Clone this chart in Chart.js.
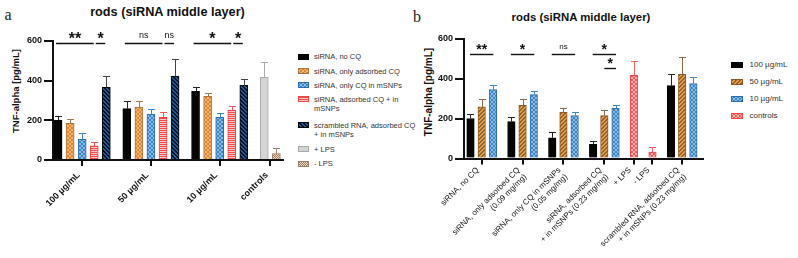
<!DOCTYPE html>
<html>
<head>
<meta charset="utf-8">
<script src="https://cdn.jsdelivr.net/npm/chart.js@4.4.1/dist/chart.umd.min.js"></script>
<style>
  body { margin: 0; background: #fff; font-family: "Liberation Sans", Arial, sans-serif; }
  #wrap { position: relative; width: 798px; height: 258px; overflow: hidden; }
  canvas { position: absolute; top: 0; }
  .txt { position: absolute; transform: translate(-50%, -50%); white-space: nowrap; line-height: 1; color: #111; }
  .letter { font-family: "Liberation Serif", serif; font-size: 16px; color: #222; }
  .bold { font-weight: bold; }
  .ytitle { transform: translate(-50%, -50%) rotate(-90deg); }
  .sw { position: absolute; box-sizing: border-box; border: 1px solid; }
  .lab { position: absolute; white-space: nowrap; color: #333; }
</style>
</head>
<body>
<div id="wrap">
  <div class="txt letter" style="left:8px; top:15px">a</div>
  <div class="txt bold" style="left:167.5px; top:12px; font-size:12.7px">rods (siRNA middle layer)</div>
  <div class="txt bold ytitle" style="left:15.5px; top:91px; font-size:9.5px">TNF-alpha [pg/mL]</div>
  <canvas id="chartA" width="290" height="258" style="left:0"></canvas>
  <div id="legendA"></div>

  <div class="txt letter" style="left:417px; top:17px">b</div>
  <div class="txt bold" style="left:581px; top:18px; font-size:11.4px">rods (siRNA middle layer)</div>
  <div class="txt bold ytitle" style="left:429px; top:92px; font-size:10px">TNF-alpha [pg/mL]</div>
  <canvas id="chartB" width="300" height="258" style="left:410px"></canvas>
  <div id="legendB"></div>
</div>

<script>
// values (mean, error) at 100 / 50 / 10 ug/mL
const concentrations = ["100 µg/mL", "50 µg/mL", "10 µg/mL"];
const controlNames = ["+ LPS", "- LPS"];
const treatmentLegend = [
  ["siRNA, no CQ"],
  ["siRNA, only adsorbed CQ"],
  ["siRNA, only CQ in mSNPs"],
  ["siRNA, adsorbed CQ + in", "mSNPs"],
  ["scrambled RNA, adsorbed CQ", "+ in mSNPs"]
];
const treatmentTicks = [
  ["siRNA, no CQ"],
  ["siRNA, only adsorbed CQ", "(0.09 mg/mg)"],
  ["siRNA, only CQ in mSNPs", "(0.05 mg/mg)"],
  ["siRNA, adsorbed CQ", "+ in mSNPs (0.23 mg/mg)"],
  ["scrambled RNA, adsorbed CQ", "+ in mSNPs (0.23 mg/mg)"]
];

const noCQ = [201, 259, 346];
const noCQSd = [22, 38, 24];
const adsorbedOnly = [185, 267, 321];
const adsorbedOnlySd = [22, 30, 17];
const cqInOnly = [104, 232, 215];
const cqInOnlySd = [30, 23, 20];
const adsorbedPlusIn = [71, 215, 252];
const adsorbedPlusInSd = [18, 27, 19];
const scrambled = [366, 423, 376];
const scrambledSd = [57, 85, 34];
const lps = [417, 32];
const lpsSd = [75, 27];

const yTicks = [0, 200, 400, 600];
const sigA = [["**", "*"], ["ns", "ns"], ["*", "*"]];
const sigB = ["**", "*", "ns", "*"];
const sigB50v10 = "*";

const means = [noCQ, adsorbedOnly, cqInOnly, adsorbedPlusIn, scrambled];
const sds = [noCQSd, adsorbedOnlySd, cqInOnlySd, adsorbedPlusInSd, scrambledSd];

const FONT = "'Liberation Sans', Arial, sans-serif";
Chart.defaults.font.family = FONT;
Chart.defaults.color = "#111";

// small pattern tiles
function tile(w, h, bg, fg, cells) {
  const c = document.createElement("canvas");
  c.width = w; c.height = h;
  const x = c.getContext("2d");
  x.fillStyle = bg; x.fillRect(0, 0, w, h);
  x.fillStyle = fg;
  cells.forEach(([i, j]) => x.fillRect(i, j, 1, 1));
  return c;
}
const X4 = [[0,0],[1,1],[2,2],[3,3],[3,0],[2,1],[1,2],[0,3]];
const DIAG4 = [[0,3],[1,2],[2,1],[3,0],[1,3],[2,2],[3,1],[0,0]];
const BACK4 = [[0,0],[1,1],[2,2],[3,3],[1,0],[2,1],[3,2],[0,3]];
const tiles = {
  tan: tile(4, 4, "#f7b46a", "#d8863a", X4),
  blue: tile(4, 4, "#3b84c3", "#8dbde6", X4),
  red: tile(1, 2, "#f9caca", "#f04c4c", [[0,0]]),
  navy: tile(4, 4, "#1d5d9c", "#07101e", BACK4),
  brown: tile(2, 2, "#efdccb", "#a37a5e", [[0,0],[1,1]]),
  tanB: tile(4, 4, "#e0a055", "#97601f", DIAG4),
  redB: tile(4, 4, "#f25656", "#fbb3b3", X4)
};
const ctxA = document.getElementById("chartA").getContext("2d");
const pat = name => ctxA.createPattern(tiles[name], "repeat");

const styleA = [
  { fill: "#050505", border: "#000", err: "#222" },
  { fill: pat("tan"), tile: "tan", border: "#a9753e", err: "#a47a50" },
  { fill: pat("blue"), tile: "blue", border: "#2d6ea8", err: "#3d88c6" },
  { fill: pat("red"), tile: "red", border: "#ef4444", err: "#f05a5a" },
  { fill: pat("navy"), tile: "navy", border: "#050505", err: "#444" }
];
const styleCtl = [
  { fill: "#d5d5d5", border: "#a9a9a9", err: "#aaa" },
  { fill: pat("brown"), tile: "brown", border: "#9b7b65", err: "#a08270" }
];
const styleB = [
  { fill: "#050505", border: "#000", err: "#222" },
  { fill: pat("tanB"), tile: "tanB", border: "#8b5a28", err: "#8c6a48" },
  { fill: pat("blue"), tile: "blue", border: "#2d6ea8", err: "#3d88c6" },
  { fill: pat("redB"), tile: "redB", border: "#f04848", err: "#f26060" }
];

function groupStarts(sizes, gap) {
  let s = 0;
  return sizes.map(n => { const v = s; s += n + gap; return v; });
}

const errorBars = {
  id: "errorBars",
  afterDatasetsDraw(chart) {
    const ctx = chart.ctx, y = chart.scales.y;
    chart.data.datasets.forEach((ds, i) => {
      chart.getDatasetMeta(i).data.forEach((bar, j) => {
        const top = Math.round(y.getPixelForValue(ds.data[j].y + ds.errors[j])) + 0.5;
        const x = Math.round(bar.x) + 0.5;
        ctx.save();
        ctx.strokeStyle = ds.errorColor;
        ctx.lineWidth = 1;
        ctx.beginPath();
        ctx.moveTo(x, bar.y);
        ctx.lineTo(x, top);
        ctx.moveTo(x - 3.5, top);
        ctx.lineTo(x + 3.5, top);
        ctx.stroke();
        ctx.restore();
      });
    });
  }
};

const sigLines = {
  id: "sig",
  afterDraw(chart, args, opts) {
    const ctx = chart.ctx, xs = chart.scales.x, ys = chart.scales.y;
    opts.marks.forEach(m => {
      const x1 = xs.getPixelForValue(m.from) + m.in1;
      const x2 = xs.getPixelForValue(m.to) + m.in2;
      const y = Math.round(ys.getPixelForValue(m.y)) + 0.5;
      ctx.save();
      ctx.strokeStyle = "#111";
      ctx.lineWidth = 1.4;
      ctx.beginPath();
      ctx.moveTo(x1, y);
      ctx.lineTo(x2, y);
      ctx.stroke();
      const star = m.text !== "ns";
      ctx.font = star ? "bold " + opts.starSize + "px " + FONT : opts.nsSize + "px " + FONT;
      ctx.fillStyle = "#111";
      ctx.textAlign = "center";
      ctx.textBaseline = "alphabetic";
      const tm = ctx.measureText(m.text);
      const cy = y - opts.lift + (tm.actualBoundingBoxAscent - tm.actualBoundingBoxDescent) / 2;
      ctx.fillText(m.text, (x1 + x2) / 2, cy);
      ctx.restore();
    });
  }
};

function axes(xMin, xMax, centers, labels, xFont, shift, pad, yWidth, xHeight) {
  return {
    x: {
      type: "linear", min: xMin, max: xMax, offset: false,
      afterBuildTicks: s => { s.ticks = centers.map(v => ({ value: v })); },
      afterFit: s => { s.height = xHeight; },
      ticks: { callback: (v, i) => labels[i], autoSkip: false, minRotation: 45, maxRotation: 45,
        font: xFont, color: "#111", padding: pad, labelOffset: shift },
      grid: { display: true, drawOnChartArea: false, offset: false, tickLength: 6, color: "#111", lineWidth: 2 },
      border: { color: "#111", width: 2 }
    },
    y: {
      min: 0, max: 600,
      afterBuildTicks: s => { s.ticks = yTicks.map(v => ({ value: v })); },
      afterFit: s => { s.width = yWidth; },
      ticks: { font: { size: 9, weight: "bold" }, color: "#111", padding: 2 },
      grid: { drawOnChartArea: false, tickLength: 9, color: "#111", lineWidth: 2 },
      border: { color: "#111", width: 2 }
    }
  };
}

function barSet(points, errors, st, thickness) {
  return {
    data: points, errors: errors, errorColor: st.err,
    backgroundColor: st.fill, borderColor: st.border, borderWidth: 1,
    barThickness: thickness, grouped: false
  };
}

// panel a: grouped by concentration
const sizesA = [5, 5, 5, 2];
const startsA = groupStarts(sizesA, 0.7);
const centersA = startsA.map((s, g) => s + (sizesA[g] - 1) / 2);
const labelsA = concentrations.concat(["controls"]);

const datasetsA = means.map((m, s) =>
  barSet(concentrations.map((c, g) => ({ x: startsA[g] + s, y: m[g] })), sds[s], styleA[s], 8));
lps.forEach((v, k) => datasetsA.push(barSet([{ x: startsA[3] + k, y: v }], [lpsSd[k]], styleCtl[k], 8)));

const marksA = [];
sigA.forEach((pair, g) => {
  marksA.push({ from: startsA[g], to: startsA[g] + 3, in1: -2, in2: -0.5, y: 591, text: pair[0] });
  marksA.push({ from: startsA[g] + 3, to: startsA[g] + 4, in1: 1.5, in2: -1, y: 591, text: pair[1] });
});

new Chart(ctxA, {
  type: "bar",
  data: { datasets: datasetsA },
  options: {
    responsive: false, animation: false,
    layout: { padding: { top: 41, right: 7, left: 0, bottom: 0 } },
    plugins: {
      legend: { display: false }, tooltip: { enabled: false },
      sig: { marks: marksA, starSize: 16, nsSize: 9, lift: 8 }
    },
    scales: axes(-0.42, 18.65, centersA, labelsA, { size: 9, weight: "bold" }, -3.5, 4, 53, 98)
  },
  plugins: [errorBars, sigLines]
});

// panel b: grouped by treatment
const sizesB = [3, 3, 3, 3, 1, 1, 3];
const startsB = groupStarts(sizesB, 0.65);
const centersB = startsB.map((s, g) => s + (sizesB[g] - 1) / 2);
const groupOfTreatment = [0, 1, 2, 3, 6];
const labelsB = treatmentTicks.slice(0, 4).concat(controlNames, [treatmentTicks[4]]);

const datasetsB = concentrations.map((c, k) =>
  barSet(means.map((m, s) => ({ x: startsB[groupOfTreatment[s]] + k, y: m[k] })), sds.map(sd => sd[k]), styleB[k], 7.5));
datasetsB.push(barSet(lps.map((v, k) => ({ x: startsB[4 + k], y: v })), lpsSd, styleB[3], 7.5));

const marksB = sigB.map((t, g) => ({ from: startsB[g], to: startsB[g] + 2, in1: -0.5, in2: 0.5, y: 525, text: t }));
marksB.push({ from: startsB[3] + 1, to: startsB[3] + 2, in1: 0, in2: 0.5, y: 456, text: sigB50v10 });

new Chart(document.getElementById("chartB"), {
  type: "bar",
  data: { datasets: datasetsB },
  options: {
    responsive: false, animation: false,
    layout: { padding: { top: 39, right: 7, left: 0, bottom: 0 } },
    plugins: {
      legend: { display: false }, tooltip: { enabled: false },
      sig: { marks: marksB, starSize: 14, nsSize: 8, lift: 7.5 }
    },
    scales: axes(-0.58, 20.76, centersB, labelsB, { size: 8 }, -4, 1, 54, 99.5)
  },
  plugins: [errorBars, sigLines]
});

// legends (html)
function legend(el, items, sw, text) {
  items.forEach(it => {
    const s = document.createElement("div");
    s.className = "sw";
    s.style.left = sw.x + "px";
    s.style.top = (it.y - sw.h / 2) + "px";
    s.style.width = sw.w + "px";
    s.style.height = sw.h + "px";
    s.style.borderColor = it.st.border;
    s.style.background = it.st.tile ? "url(" + tiles[it.st.tile].toDataURL() + ")" : it.st.fill;
    el.appendChild(s);
    const t = document.createElement("div");
    t.className = "lab";
    t.style.left = text.x + "px";
    t.style.top = (it.y - text.lh / 2) + "px";
    t.style.fontSize = text.size + "px";
    t.style.lineHeight = text.lh + "px";
    t.innerHTML = it.lines.join("<br>");
    el.appendChild(t);
  });
}

const rowsA = [56.7, 71, 85.3, 99.3, 125, 149, 163.7];
const itemsA = treatmentLegend.map((l, i) => ({ lines: l, st: styleA[i] }))
  .concat(controlNames.map((n, k) => ({ lines: [n], st: styleCtl[k] })));
itemsA.forEach((it, i) => { it.y = rowsA[i]; });
legend(document.getElementById("legendA"), itemsA, { x: 298, w: 11, h: 6 }, { x: 314, size: 7.5, lh: 9 });

const rowsB = [65, 82.3, 99.3, 115.7];
const itemsB = concentrations.concat(["controls"]).map((n, k) => ({ lines: [n], st: styleB[k], y: rowsB[k] }));
legend(document.getElementById("legendB"), itemsB, { x: 731, w: 12, h: 6 }, { x: 749.5, size: 8, lh: 10 });
</script>
</body>
</html>
